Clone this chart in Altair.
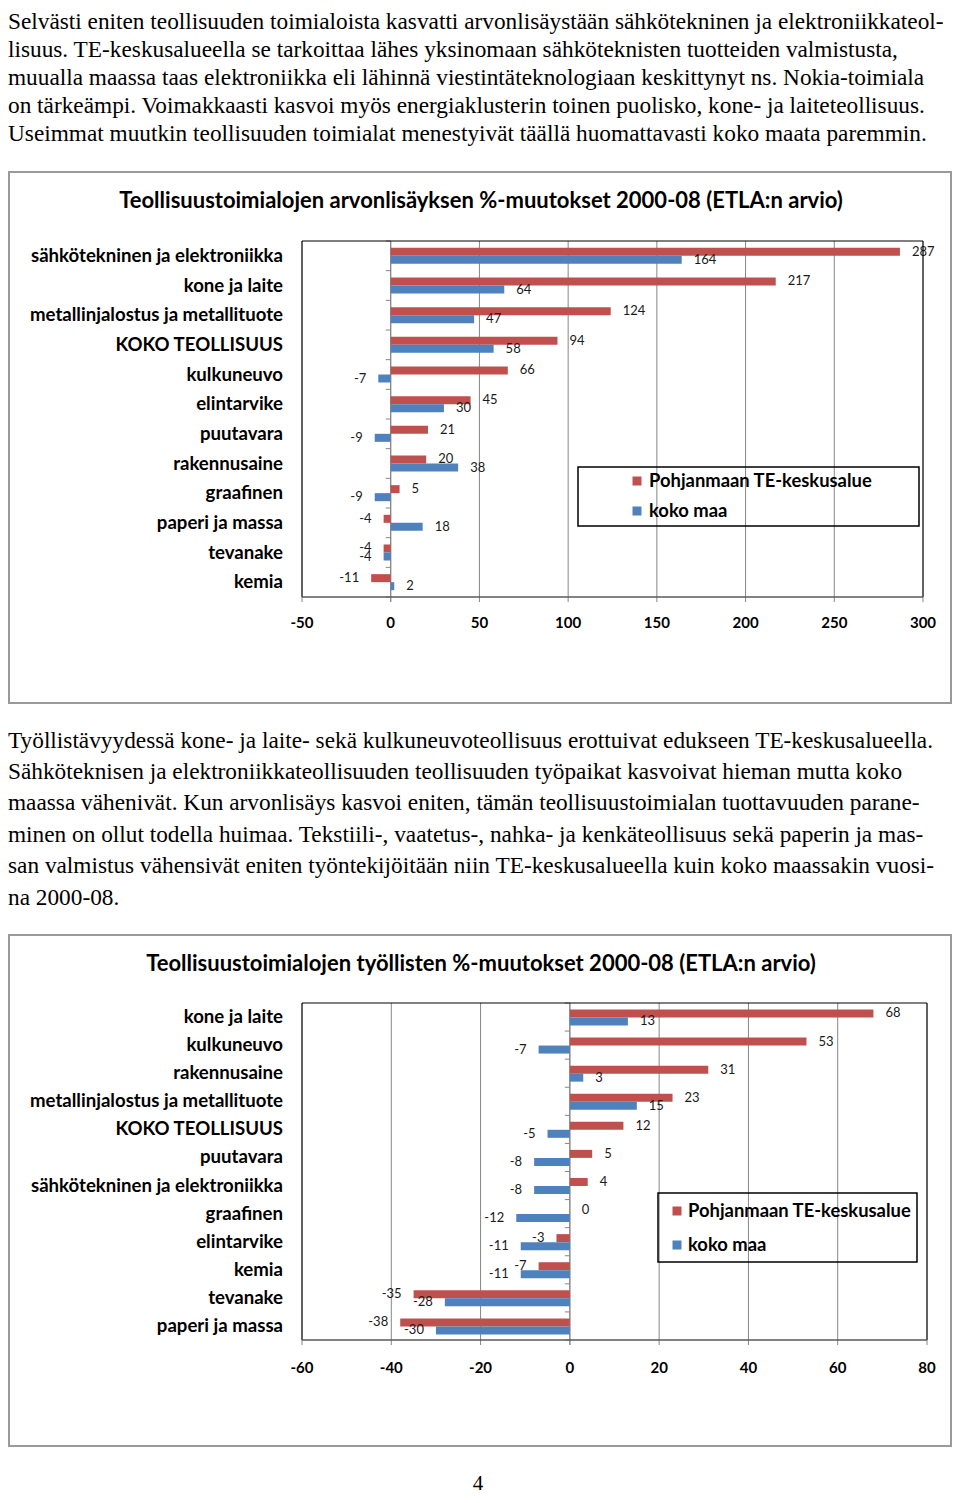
import altair as alt
import pandas as pd

# ---------------- data ----------------
para1 = [
    "Selvästi eniten teollisuuden toimialoista kasvatti arvonlisäystään sähkötekninen ja elektroniikkateol-",
    "lisuus.  TE-keskusalueella se tarkoittaa lähes yksinomaan sähköteknisten tuotteiden valmistusta,",
    "muualla maassa taas elektroniikka eli lähinnä viestintäteknologiaan keskittynyt ns. Nokia-toimiala",
    "on tärkeämpi. Voimakkaasti kasvoi myös energiaklusterin toinen puolisko, kone- ja laiteteollisuus.",
    "Useimmat muutkin teollisuuden toimialat menestyivät täällä huomattavasti koko maata paremmin.",
]
para2 = [
    "Työllistävyydessä kone- ja laite- sekä kulkuneuvoteollisuus erottuivat edukseen TE-keskusalueella.",
    "Sähköteknisen ja elektroniikkateollisuuden teollisuuden työpaikat kasvoivat hieman mutta koko",
    "maassa vähenivät. Kun arvonlisäys kasvoi eniten, tämän teollisuustoimialan tuottavuuden parane-",
    "minen on ollut todella huimaa. Tekstiili-, vaatetus-, nahka- ja kenkäteollisuus sekä paperin ja mas-",
    "san valmistus vähensivät eniten työntekijöitään niin TE-keskusalueella kuin koko maassakin vuosi-",
    "na 2000-08.",
]
page_number = "4"

series = ["Pohjanmaan TE-keskusalue", "koko maa"]
colors = ["#C0504D", "#4F81BD"]

title1 = "Teollisuustoimialojen arvonlisäyksen %-muutokset 2000-08 (ETLA:n arvio)"
cats1 = ["sähkötekninen ja elektroniikka", "kone ja laite", "metallinjalostus ja metallituote",
         "KOKO TEOLLISUUS", "kulkuneuvo", "elintarvike", "puutavara", "rakennusaine",
         "graafinen", "paperi ja massa", "tevanake", "kemia"]
red1 = [287, 217, 124, 94, 66, 45, 21, 20, 5, -4, -4, -11]
blue1 = [164, 64, 47, 58, -7, 30, -9, 38, -9, 18, -4, 2]
ticks1 = [-50, 0, 50, 100, 150, 200, 250, 300]

title2 = "Teollisuustoimialojen työllisten %-muutokset 2000-08 (ETLA:n arvio)"
cats2 = ["kone ja laite", "kulkuneuvo", "rakennusaine", "metallinjalostus ja metallituote",
         "KOKO TEOLLISUUS", "puutavara", "sähkötekninen ja elektroniikka", "graafinen",
         "elintarvike", "kemia", "tevanake", "paperi ja massa"]
red2 = [68, 53, 31, 23, 12, 5, 4, 0, -3, -7, -35, -38]
blue2 = [13, -7, 3, 15, -5, -8, -8, -12, -11, -11, -28, -30]
ticks2 = [-60, -40, -20, 0, 20, 40, 60, 80]

# ---------------- style ----------------
W = 944
SANS = "Lato"
SERIF = "Liberation Serif"
GRID = "#868686"
FRAME = "#9a9a9a"

dummy = pd.DataFrame({"d": [0]})


def text_panel(lines, height, y0, lh):
    layers = []
    for i, line in enumerate(lines):
        layers.append(alt.Chart(dummy).mark_text(
            align="left", baseline="alphabetic", font=SERIF, fontSize=23.3, color="black"
        ).encode(x=alt.value(0), y=alt.value(y0 + i * lh), text=alt.value(line)))
    return alt.layer(*layers).properties(width=W, height=height)


def bar_panel(cats, red, blue, ticks, title, g):
    df = pd.DataFrame({
        "cat": cats * 2,
        "series": [series[0]] * len(cats) + [series[1]] * len(cats),
        "value": red + blue,
    })
    df["label"] = df["value"].astype(str)
    px0, px1 = g["px"]
    py0, py1 = g["py"]
    step = (py1 - py0) / len(cats)
    xs = alt.Scale(domain=[ticks[0], ticks[-1]], range=[px0, px1], nice=False, zero=False)
    ys = alt.Scale(domain=cats, range=[py0, py1], paddingInner=0.46, paddingOuter=0.23)
    yo = alt.Scale(domain=series, paddingInner=0, paddingOuter=0)
    cs = alt.Scale(domain=series, range=colors)

    tdf = pd.DataFrame({"t": ticks, "tl": [str(t) for t in ticks]})
    zdf = pd.DataFrame({"t": [0]})
    cdf = pd.DataFrame({"cat": cats, "zero": [0] * len(cats)})

    X = lambda f: alt.X(f, scale=xs, axis=None)
    Y = lambda f: alt.Y(f, scale=ys, axis=None)

    fx0, fy0, fx1, fy1 = g["frame"]
    outer = alt.Chart(dummy).mark_rect(fillOpacity=0, stroke=FRAME, strokeWidth=2).encode(
        x=alt.value(fx0), x2=alt.value(fx1), y=alt.value(fy0), y2=alt.value(fy1))
    ttl = alt.Chart(dummy).mark_text(
        font=SANS, fontWeight="bold", fontSize=g["title_size"], align="center",
        baseline="middle", color="black"
    ).encode(x=alt.value(g["title_x"]), y=alt.value(g["title_y"]), text=alt.value(title))

    grid = alt.Chart(tdf).mark_rule(color=GRID, strokeWidth=1).encode(
        x=X("t:Q"), y=alt.value(py0), y2=alt.value(py1))
    xticks = alt.Chart(tdf).mark_rule(color=GRID, strokeWidth=1).encode(
        x=X("t:Q"), y=alt.value(py1), y2=alt.value(py1 + 5))
    xlabels = alt.Chart(tdf).mark_text(
        font=SANS, fontWeight="bold", fontSize=15, baseline="middle", color="black"
    ).encode(x=X("t:Q"), y=alt.value(g["tick_y"]), text="tl:N")
    zline = alt.Chart(zdf).mark_rule(color=GRID, strokeWidth=1).encode(
        x=X("t:Q"), y=alt.value(py0), y2=alt.value(py1 + 5))
    cticks = alt.Chart(cdf).mark_rule(color=GRID, strokeWidth=1, yOffset=-step / 2, x2Offset=-5).encode(
        x=X("zero:Q"), x2="zero:Q", y=Y("cat:N"))
    bticks = alt.Chart(cdf.tail(1)).mark_rule(color=GRID, strokeWidth=1, yOffset=step / 2, x2Offset=-5).encode(
        x=X("zero:Q"), x2="zero:Q", y=Y("cat:N"))
    clabels = alt.Chart(cdf).mark_text(
        font=SANS, fontWeight="bold", fontSize=g["cat_size"], align="right",
        baseline="middle", color="black"
    ).encode(x=alt.value(g["cat_x"]), y=Y("cat:N"), text="cat:N")

    plotframe = alt.Chart(dummy).mark_rect(fillOpacity=0, stroke="black", strokeWidth=1).encode(
        x=alt.value(px0), x2=alt.value(px1), y=alt.value(py0), y2=alt.value(py1))
    xaxis = alt.Chart(dummy).mark_rule(color=GRID, strokeWidth=1).encode(
        x=alt.value(px0), x2=alt.value(px1), y=alt.value(py1))

    enc = dict(
        x=X("value:Q"), y=Y("cat:N"),
        yOffset=alt.YOffset("series:N", scale=yo),
    )
    bars = alt.Chart(df).mark_bar().encode(
        color=alt.Color("series:N", scale=cs, legend=None), **enc)
    lab_pos = alt.Chart(df).transform_filter("datum.value >= 0").mark_text(
        align="left", dx=12, baseline="middle", font=SANS, fontSize=13, color="#1a1a1a"
    ).encode(text="label:N", **enc)
    lab_neg = alt.Chart(df).transform_filter("datum.value < 0").mark_text(
        align="right", dx=-12, baseline="middle", font=SANS, fontSize=13, color="#1a1a1a"
    ).encode(text="label:N", **enc)

    lx0, ly0, lx1, ly1 = g["legend_box"]
    lbox = alt.Chart(dummy).mark_rect(fillOpacity=0, stroke="black", strokeWidth=1.5).encode(
        x=alt.value(lx0), x2=alt.value(lx1), y=alt.value(ly0), y2=alt.value(ly1))
    leg = []
    for s, yy in zip(series, g["legend_y"]):
        sdf = pd.DataFrame({"series": [s]})
        leg.append(alt.Chart(sdf).mark_square(size=81, opacity=1).encode(
            x=alt.value(g["legend_sq_x"]), y=alt.value(yy),
            color=alt.Color("series:N", scale=cs, legend=None)))
        leg.append(alt.Chart(sdf).mark_text(
            font=SANS, fontWeight="bold", fontSize=18.4, align="left", baseline="middle", color="black"
        ).encode(x=alt.value(g["legend_text_x"]), y=alt.value(yy), text="series:N"))

    return alt.layer(
        outer, ttl, grid, xticks, zline, cticks, bticks, bars, lab_pos, lab_neg,
        plotframe, xaxis, xlabels, clabels, lbox, *leg
    ).properties(width=W, height=g["H"])


g1 = dict(H=545, frame=(1, 7, 943, 538), title_x=473, title_y=36, title_size=22,
          px=(294, 915), py=(76, 432), cat_x=275, cat_size=18.6, tick_y=458,
          legend_box=(570, 302, 911, 361), legend_sq_x=629, legend_text_x=641, legend_y=(316, 346))
g2 = dict(H=524, frame=(1, 7, 943, 518), title_x=473, title_y=36, title_size=22,
          px=(294, 919), py=(75, 412), cat_x=275, cat_size=18.6, tick_y=440,
          legend_box=(650, 265, 909, 334), legend_sq_x=669, legend_text_x=680, legend_y=(283, 317))

panelA = text_panel(para1, 157, 21, 28)
panelB = bar_panel(cats1, red1, blue1, ticks1, title1, g1)
panelC = text_panel(para2, 218, 37.5, 31.4)
panelD = bar_panel(cats2, red2, blue2, ticks2, title2, g2)
panelE = alt.layer(alt.Chart(dummy).mark_text(
    font=SERIF, fontSize=21, align="center", baseline="alphabetic", color="black"
).encode(x=alt.value(470), y=alt.value(38), text=alt.value(page_number))).properties(width=W, height=42)

chart = alt.vconcat(panelA, panelB, panelC, panelD, panelE, spacing=0, bounds="flush").properties(
    padding=0
).configure_view(strokeWidth=0)

chart.save("out.html", embed_options={"renderer": "svg", "actions": False})
